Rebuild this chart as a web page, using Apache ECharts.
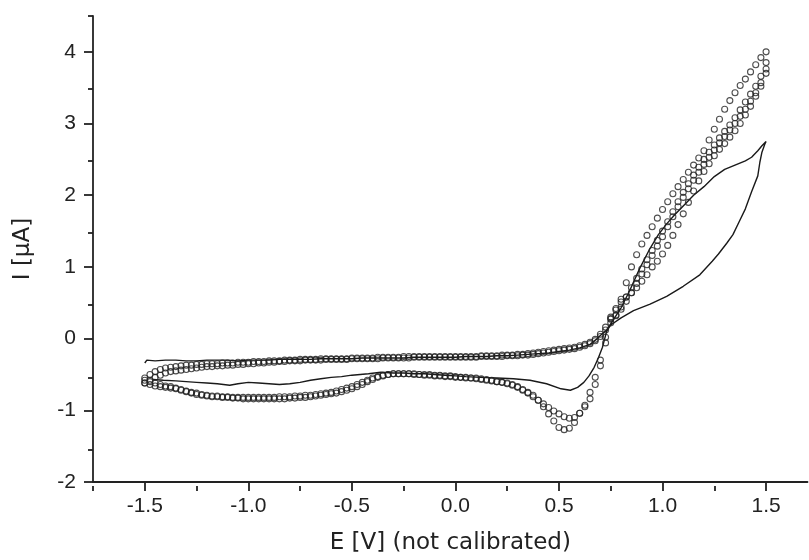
<!DOCTYPE html>
<html>
<head>
<meta charset="utf-8">
<script src="https://cdn.jsdelivr.net/npm/echarts@6/dist/echarts.min.js"></script>
<style>html,body{margin:0;padding:0;background:#fff}#c{width:809px;height:560px}</style>
</head>
<body>
<div id="c"></div>
<script>
// Potential grid of the dotted (open circle) curves, V
const potential = [
-1.5,-1.475,-1.45,-1.425,-1.4,-1.375,-1.35,-1.325,-1.3,-1.275,
-1.25,-1.225,-1.2,-1.175,-1.15,-1.125,-1.1,-1.075,-1.05,-1.025,
-1.0,-0.975,-0.95,-0.925,-0.9,-0.875,-0.85,-0.825,-0.8,-0.775,
-0.75,-0.725,-0.7,-0.675,-0.65,-0.625,-0.6,-0.575,-0.55,-0.525,
-0.5,-0.475,-0.45,-0.425,-0.4,-0.375,-0.35,-0.325,-0.3,-0.275,
-0.25,-0.225,-0.2,-0.175,-0.15,-0.125,-0.1,-0.075,-0.05,-0.025,
0,0.025,0.05,0.075,0.1,0.125,0.15,0.175,0.2,0.225,
0.25,0.275,0.3,0.325,0.35,0.375,0.4,0.425,0.45,0.475,
0.5,0.525,0.55,0.575,0.6,0.625,0.65,0.675,0.7,0.725,
0.75,0.775,0.8,0.825,0.85,0.875,0.9,0.925,0.95,0.975,
1.0,1.025,1.05,1.075,1.1,1.125,1.15,1.175,1.2,1.225,
1.25,1.275,1.3,1.325,1.35,1.375,1.4,1.425,1.45,1.475,
1.5];
// Dotted curve, forward sweep 1 (µA)
const anodic1 = [
-0.55,-0.50,-0.46,-0.43,-0.41,-0.40,-0.39,-0.38,-0.37,-0.37,
-0.36,-0.36,-0.35,-0.35,-0.35,-0.34,-0.34,-0.34,-0.33,-0.33,
-0.33,-0.32,-0.32,-0.32,-0.31,-0.31,-0.31,-0.30,-0.30,-0.30,
-0.29,-0.29,-0.29,-0.29,-0.28,-0.28,-0.28,-0.28,-0.28,-0.28,
-0.27,-0.27,-0.27,-0.27,-0.27,-0.26,-0.26,-0.26,-0.26,-0.26,
-0.25,-0.25,-0.25,-0.25,-0.25,-0.25,-0.25,-0.25,-0.25,-0.25,
-0.25,-0.25,-0.25,-0.25,-0.25,-0.24,-0.24,-0.24,-0.24,-0.23,
-0.23,-0.23,-0.22,-0.22,-0.21,-0.20,-0.19,-0.18,-0.17,-0.16,
-0.15,-0.14,-0.13,-0.12,-0.10,-0.08,-0.05,-0.01,0.06,0.16,
0.27,0.40,0.55,0.78,1.00,1.17,1.32,1.44,1.56,1.68,
1.80,1.91,2.02,2.12,2.22,2.32,2.42,2.52,2.62,2.77,
2.92,3.06,3.20,3.32,3.43,3.53,3.62,3.72,3.82,3.92,
4.00];
// Dotted curve, forward sweep 2
const anodic2 = [
-0.62,-0.58,-0.54,-0.51,-0.48,-0.46,-0.45,-0.44,-0.43,-0.42,
-0.41,-0.40,-0.39,-0.39,-0.38,-0.38,-0.37,-0.37,-0.36,-0.36,
-0.35,-0.35,-0.34,-0.34,-0.33,-0.33,-0.32,-0.32,-0.31,-0.31,
-0.31,-0.30,-0.30,-0.30,-0.30,-0.29,-0.29,-0.29,-0.29,-0.29,
-0.28,-0.28,-0.28,-0.28,-0.28,-0.28,-0.27,-0.27,-0.27,-0.27,
-0.27,-0.27,-0.26,-0.26,-0.26,-0.26,-0.26,-0.26,-0.26,-0.26,
-0.26,-0.26,-0.26,-0.26,-0.26,-0.25,-0.25,-0.25,-0.25,-0.25,
-0.24,-0.24,-0.24,-0.23,-0.23,-0.22,-0.21,-0.20,-0.19,-0.18,
-0.17,-0.16,-0.15,-0.14,-0.12,-0.10,-0.07,-0.03,0.03,0.12,
0.22,0.32,0.44,0.58,0.71,0.84,0.97,1.10,1.23,1.37,
1.50,1.63,1.77,1.91,2.04,2.16,2.28,2.39,2.50,2.60,
2.70,2.80,2.89,2.98,3.08,3.19,3.30,3.41,3.52,3.66,
3.85];
// Dotted curve, reverse sweep 1 (listed in ascending potential)
const cathodic1 = [
-0.62,-0.64,-0.66,-0.67,-0.68,-0.69,-0.70,-0.72,-0.74,-0.76,
-0.78,-0.79,-0.80,-0.81,-0.81,-0.82,-0.82,-0.83,-0.83,-0.84,
-0.84,-0.84,-0.84,-0.84,-0.84,-0.84,-0.84,-0.84,-0.83,-0.83,
-0.82,-0.82,-0.81,-0.80,-0.79,-0.78,-0.77,-0.76,-0.74,-0.72,
-0.70,-0.67,-0.64,-0.60,-0.57,-0.54,-0.52,-0.50,-0.49,-0.49,
-0.49,-0.49,-0.49,-0.50,-0.50,-0.50,-0.51,-0.51,-0.52,-0.52,
-0.53,-0.54,-0.54,-0.55,-0.55,-0.56,-0.57,-0.58,-0.60,-0.61,
-0.62,-0.64,-0.67,-0.71,-0.75,-0.79,-0.86,-0.95,-1.05,-1.15,
-1.24,-1.27,-1.25,-1.17,-1.04,-0.93,-0.75,-0.54,-0.30,0.02,
0.28,0.33,0.41,0.52,0.64,0.77,0.90,1.03,1.16,1.29,
1.42,1.56,1.70,1.84,1.97,2.09,2.21,2.32,2.43,2.53,
2.63,2.73,2.82,2.91,3.00,3.10,3.20,3.31,3.43,3.57,
3.76];
// Dotted curve, reverse sweep 2 (listed in ascending potential)
const cathodic2 = [
-0.58,-0.60,-0.62,-0.64,-0.66,-0.67,-0.69,-0.71,-0.73,-0.75,
-0.76,-0.78,-0.79,-0.80,-0.80,-0.81,-0.81,-0.82,-0.82,-0.82,
-0.82,-0.82,-0.82,-0.82,-0.82,-0.82,-0.81,-0.81,-0.81,-0.80,
-0.80,-0.79,-0.79,-0.78,-0.77,-0.76,-0.75,-0.73,-0.71,-0.69,
-0.67,-0.64,-0.61,-0.58,-0.55,-0.53,-0.51,-0.50,-0.49,-0.49,
-0.49,-0.49,-0.50,-0.50,-0.51,-0.51,-0.52,-0.52,-0.53,-0.53,
-0.54,-0.54,-0.55,-0.55,-0.56,-0.57,-0.58,-0.59,-0.60,-0.61,
-0.63,-0.65,-0.68,-0.72,-0.76,-0.81,-0.86,-0.91,-0.96,-1.01,
-1.05,-1.09,-1.11,-1.10,-1.04,-0.95,-0.84,-0.64,-0.38,-0.06,
0.30,0.42,0.51,0.58,0.64,0.71,0.80,0.89,1.00,1.08,
1.18,1.30,1.44,1.59,1.74,1.90,2.06,2.20,2.33,2.44,
2.55,2.64,2.72,2.81,2.90,3.00,3.12,3.24,3.38,3.52,
3.70];
// Solid curve: potential (V) and current (µA), in drawing order
const solidE = [
-1.5,-1.49,-1.45,-1.4,-1.35,-1.3,-1.25,-1.2,-1.15,-1.1,
-1.05,-1.0,-0.95,-0.9,-0.85,-0.8,-0.75,-0.7,-0.65,-0.6,
-0.55,-0.5,-0.45,-0.4,-0.35,-0.3,-0.25,-0.2,-0.15,-0.1,
-0.05,0,0.05,0.1,0.15,0.2,0.25,0.3,0.35,0.4,
0.45,0.5,0.55,0.6,0.65,0.685,0.71,0.73,0.76,0.8,
0.84,0.89,0.94,0.98,1.02,1.06,1.1,1.15,1.2,1.25,
1.3,1.35,1.4,1.43,1.46,1.48,1.5,
1.495,1.48,1.47,1.46,1.43,1.40,1.37,1.34,1.31,1.27,
1.24,1.18,1.10,1.02,0.94,0.86,0.80,0.75,0.73,0.71,
0.69,0.67,0.645,0.62,0.59,0.555,0.51,0.44,0.36,0.28,
0.2,0.12,0.05,0,-0.05,-0.1,-0.15,-0.2,-0.25,-0.3,
-0.36,-0.42,-0.5,-0.55,-0.6,-0.65,-0.7,-0.75,-0.8,-0.85,
-0.9,-0.95,-1.0,-1.05,-1.09,-1.15,-1.2,-1.25,-1.3,-1.35,
-1.41,-1.46];
const solidI = [
-0.34,-0.30,-0.31,-0.30,-0.30,-0.31,-0.31,-0.30,-0.30,-0.30,
-0.31,-0.30,-0.30,-0.30,-0.29,-0.29,-0.29,-0.29,-0.28,-0.28,
-0.28,-0.28,-0.27,-0.27,-0.27,-0.27,-0.27,-0.26,-0.26,-0.26,
-0.26,-0.26,-0.25,-0.25,-0.25,-0.24,-0.24,-0.23,-0.22,-0.21,
-0.20,-0.18,-0.16,-0.13,-0.08,0.0,0.07,0.12,0.25,0.43,
0.66,0.98,1.26,1.45,1.60,1.73,1.85,2.0,2.12,2.26,
2.36,2.42,2.48,2.53,2.62,2.69,2.75,
2.72,2.60,2.46,2.27,2.05,1.81,1.63,1.45,1.33,1.18,
1.08,0.89,0.73,0.59,0.48,0.39,0.29,0.19,0.10,-0.12,
-0.27,-0.40,-0.52,-0.61,-0.68,-0.72,-0.70,-0.63,-0.58,-0.56,
-0.55,-0.54,-0.53,-0.52,-0.51,-0.50,-0.49,-0.49,-0.48,-0.48,
-0.47,-0.49,-0.51,-0.53,-0.54,-0.56,-0.58,-0.61,-0.63,-0.64,
-0.63,-0.62,-0.61,-0.63,-0.65,-0.63,-0.62,-0.61,-0.60,-0.59,
-0.58,-0.57];
// Tick values
const xMajorTicks = [-1.5,-1.0,-0.5,0.0,0.5,1.0,1.5];
const xMinorTicks = [-1.75,-1.25,-0.75,-0.25,0.25,0.75,1.25];
const yMajorTicks = [-2,-1,0,1,2,3,4];
const yMinorTicks = [-1.5,-0.5,0.5,1.5,2.5,3.5,4.5];
const xTitle = 'E [V] (not calibrated)';
const yTitle = 'I [\u03bcA]';

const circles = [];
[anodic1, cathodic1, anodic2, cathodic2].forEach(arr => {
  arr.forEach((v, i) => circles.push([potential[i], v]));
});
const solid = solidE.map((e, i) => [e, solidI[i]]);

const AX = '#222';
const LABEL_FONT = '"Liberation Sans", Arial, Helvetica, sans-serif';
const TITLE_FONT = '"DejaVu Sans", sans-serif';
const gridBox = {left: 93, top: 16, right: 1.5, bottom: 74, containLabel: false};
const xRange = {min: -1.75, max: 1.7};
const yRange = {min: -2, max: 4.5};

const chart = echarts.init(document.getElementById('c'), null, {renderer: 'canvas'});
chart.setOption({
  backgroundColor: '#fff',
  animation: false,
  grid: [Object.assign({}, gridBox), Object.assign({}, gridBox)],
  xAxis: [
    Object.assign({
      type: 'value', gridIndex: 0, position: 'bottom',
      name: xTitle, nameLocation: 'middle', nameGap: 50,
      nameTextStyle: {fontFamily: TITLE_FONT, fontSize: 23, color: AX},
      axisLine: {show: true, onZero: false, lineStyle: {color: AX, width: 1.8}},
      axisTick: {show: true, inside: false, length: 9, customValues: xMajorTicks, lineStyle: {color: AX, width: 1.8}},
      axisLabel: {show: true, margin: 14, customValues: xMajorTicks, fontFamily: LABEL_FONT, fontSize: 21, color: AX,
        formatter: v => (Math.abs(v) < 1e-9 ? 0 : v).toFixed(1)},
      splitLine: {show: false}
    }, xRange),
    Object.assign({
      type: 'value', gridIndex: 1, position: 'bottom',
      axisLine: {show: false, onZero: false},
      axisTick: {show: true, inside: false, length: 5, customValues: xMinorTicks, lineStyle: {color: AX, width: 1.8}},
      axisLabel: {show: false},
      splitLine: {show: false}
    }, xRange)
  ],
  yAxis: [
    Object.assign({
      type: 'value', gridIndex: 0, position: 'left',
      name: yTitle, nameLocation: 'middle', nameGap: 58, nameRotate: 90,
      nameTextStyle: {fontFamily: TITLE_FONT, fontSize: 23, color: AX},
      axisLine: {show: true, onZero: false, lineStyle: {color: AX, width: 1.8}},
      axisTick: {show: true, inside: false, length: 9, customValues: yMajorTicks, lineStyle: {color: AX, width: 1.8}},
      axisLabel: {show: true, margin: 17, customValues: yMajorTicks, fontFamily: LABEL_FONT, fontSize: 21, color: AX,
        formatter: v => String(Math.round(v))},
      splitLine: {show: false}
    }, yRange),
    Object.assign({
      type: 'value', gridIndex: 1, position: 'left',
      axisLine: {show: false, onZero: false},
      axisTick: {show: true, inside: false, length: 5, customValues: yMinorTicks, lineStyle: {color: AX, width: 1.8}},
      axisLabel: {show: false},
      splitLine: {show: false}
    }, yRange)
  ],
  series: [
    {
      type: 'line', xAxisIndex: 0, yAxisIndex: 0, data: solid,
      showSymbol: false, symbol: 'none', smooth: false,
      lineStyle: {color: '#1a1a1a', width: 1.4}, z: 2
    },
    {
      type: 'scatter', xAxisIndex: 0, yAxisIndex: 0, data: circles,
      symbol: 'circle', symbolSize: 6,
      itemStyle: {color: 'rgba(255,255,255,0)', borderColor: '#222', borderWidth: 1.1}, z: 3
    }
  ]
});
</script>
</body>
</html>
